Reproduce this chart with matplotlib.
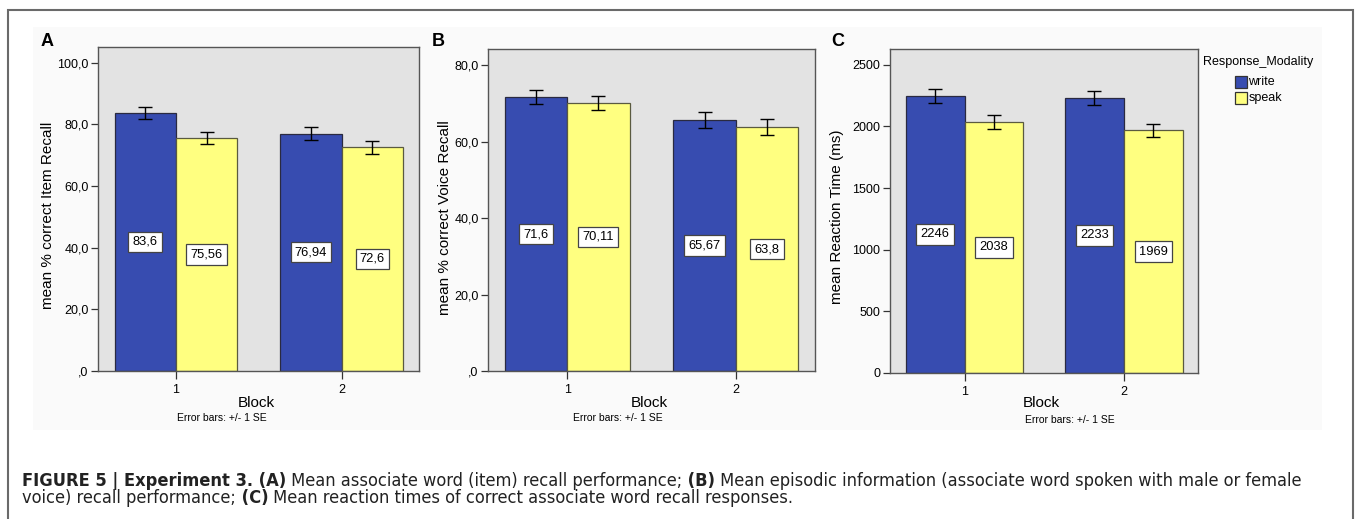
import matplotlib
matplotlib.use("Agg")
import matplotlib.pyplot as plt
from matplotlib.patches import Rectangle
from matplotlib import font_manager
import numpy as np

# data
blocks = [1, 2]
block_labels = ["1", "2"]
series = ["write", "speak"]

item_write = [83.6, 76.94]
item_speak = [75.56, 72.6]
item_write_se = [2.0, 2.05]
item_speak_se = [1.9, 2.1]

voice_write = [71.6, 65.67]
voice_speak = [70.11, 63.8]
voice_write_se = [1.9, 2.1]
voice_speak_se = [1.9, 2.05]

rt_write = [2246, 2233]
rt_speak = [2038, 1969]
rt_write_se = [58, 57]
rt_speak_se = [58, 54]

item_labels = ["83,6", "76,94", "75,56", "72,6"]
voice_labels = ["71,6", "65,67", "70,11", "63,8"]
rt_labels = ["2246", "2233", "2038", "1969"]

W, H = 1355, 519
BLUE = "#374cb0"
YELLOW = "#ffff80"
FONT = ["Liberation Sans", "DejaVu Sans"]

# a narrow face for the caption if one is installed
names = {f.name for f in font_manager.fontManager.ttflist}
if "Liberation Sans Narrow" in names:
    CAPFONT = ["Liberation Sans Narrow"]
else:
    CAPFONT = ["DejaVu Sans"]

plt.rcParams["font.family"] = FONT

fig = plt.figure(figsize=(W / 100, H / 100), dpi=100)


def px(x, y):
    return x / W, 1 - y / H


def box(left, top, right, bottom):
    return [left / W, 1 - bottom / H, (right - left) / W, (bottom - top) / H]


# outer frame and faint chart background
fig.patches.append(Rectangle(px(8, 530), (1353 - 8) / W, (530 - 10) / H,
                             transform=fig.transFigure, facecolor="white",
                             edgecolor="#6a6a6a", linewidth=1.5, zorder=-3))
fig.patches.append(Rectangle(px(33, 430), (1322 - 33) / W, (430 - 27) / H,
                             transform=fig.transFigure, facecolor="#fafafa",
                             edgecolor="none", zorder=-2))


def panel(rect, w, s, wse, sse, labels, ymax, ticks, ticklabels):
    ax = fig.add_axes(rect)
    ax.set_facecolor("#e3e3e3")
    x = np.array(blocks, dtype=float)
    bw = 0.37
    ax.bar(x - bw / 2, w, bw, color=BLUE, edgecolor="#2a2a40", linewidth=0.9, zorder=2)
    ax.bar(x + bw / 2, s, bw, color=YELLOW, edgecolor="#5a5a40", linewidth=0.9, zorder=2)
    ax.errorbar(x - bw / 2, w, yerr=wse, fmt="none", ecolor="black",
                elinewidth=1, capsize=4.8, capthick=1, zorder=3)
    ax.errorbar(x + bw / 2, s, yerr=sse, fmt="none", ecolor="black",
                elinewidth=1, capsize=4.8, capthick=1, zorder=3)
    vals = list(w) + list(s)
    xs = list(x - bw / 2) + list(x + bw / 2)
    for xi, v, lab in zip(xs, vals, labels):
        ax.text(xi, v / 2, lab, ha="center", va="center", fontsize=9.3, zorder=4,
                bbox=dict(boxstyle="square,pad=0.33", facecolor="white",
                          edgecolor="#444444", linewidth=0.9))
    ax.set_xlim(0.532, 2.468)
    ax.set_ylim(0, ymax)
    ax.set_xticks(blocks)
    ax.set_xticklabels(block_labels)
    ax.set_yticks(ticks)
    ax.set_yticklabels(ticklabels)
    ax.tick_params(axis="both", direction="out", length=5, width=0.9,
                   color="#333333", labelsize=9, pad=2)
    ax.tick_params(axis="x", length=5.5, pad=4)
    for sp in ax.spines.values():
        sp.set_color("#555555")
        sp.set_linewidth(1)
    return ax


panel(box(98.3, 46.7, 419.3, 370.7), item_write, item_speak, item_write_se, item_speak_se,
      item_labels, 105.2, [0, 20, 40, 60, 80, 100],
      [",0", "20,0", "40,0", "60,0", "80,0", "100,0"])
panel(box(488.3, 49, 814.7, 371), voice_write, voice_speak, voice_write_se, voice_speak_se,
      voice_labels, 84.2, [0, 20, 40, 60, 80],
      [",0", "20,0", "40,0", "60,0", "80,0"])
panel(box(890, 48.7, 1198.3, 372.7), rt_write, rt_speak, rt_write_se, rt_speak_se,
      rt_labels, 2632, [0, 500, 1000, 1500, 2000, 2500],
      ["0", "500", "1000", "1500", "2000", "2500"])

# panel letters, axis titles
for letter, lx in [("A", 41), ("B", 432), ("C", 831)]:
    fig.text(*px(lx, 41), letter, fontsize=13, fontweight="bold", ha="left", va="center")

ylabels = [("mean % correct Item Recall", 48, 215),
           ("mean % correct Voice Recall", 445, 218),
           ("mean Reaction Time (ms)", 837, 217)]
for txt, lx, ly in ylabels:
    fig.text(*px(lx, ly), txt, rotation=90, fontsize=11, ha="center", va="center")

for bx, ex, ey in [(256, 222, 418), (649, 618, 418), (1041, 1070, 420)]:
    fig.text(*px(bx, 403), "Block", fontsize=11, ha="center", va="center")
    fig.text(*px(ex, ey), "Error bars: +/- 1 SE", fontsize=7.5, ha="center", va="center")

# legend
fig.text(*px(1203, 62), "Response_Modality", fontsize=9, ha="left", va="center")
for name, col, ly in [(series[0], BLUE, 82), (series[1], YELLOW, 98)]:
    fig.patches.append(Rectangle(px(1235, ly + 6), 12 / W, 12 / H,
                                 transform=fig.transFigure, facecolor=col,
                                 edgecolor="#333333", linewidth=0.9))
    fig.text(*px(1248.5, ly), name, fontsize=9, ha="left", va="center")

# caption with mixed bold / regular runs
line1 = [("FIGURE 5 | Experiment 3.", True), (" (A)", True),
         (" Mean associate word (item) recall performance;", False), (" (B)", True),
         (" Mean episodic information (associate word spoken with male or female", False)]
line2 = [("voice) recall performance;", False), (" (C)", True),
         (" Mean reaction times of correct associate word recall responses.", False)]

renderer = fig.canvas.get_renderer()


def line_width(pieces, size, stretch):
    tot = 0
    for s, b in pieces:
        t = fig.text(0, 0, s, fontsize=size, family=CAPFONT, fontstretch=stretch,
                     fontweight="bold" if b else "normal")
        tot += t.get_window_extent(renderer=renderer).width
        t.remove()
    return tot


STRETCH = "condensed"
cap_size = 11.0 * 1281 / line_width(line1, 11.0, STRETCH)


def draw_line(pieces, x, y, size):
    for s, b in pieces:
        t = fig.text(*px(x, y), s, fontsize=size, family=CAPFONT, fontstretch=STRETCH,
                     color="#222222", fontweight="bold" if b else "normal",
                     ha="left", va="center")
        x += t.get_window_extent(renderer=renderer).width


draw_line(line1, 22, 481, cap_size)
draw_line(line2, 22, 498, cap_size)

fig.savefig("out.png", dpi=100)
